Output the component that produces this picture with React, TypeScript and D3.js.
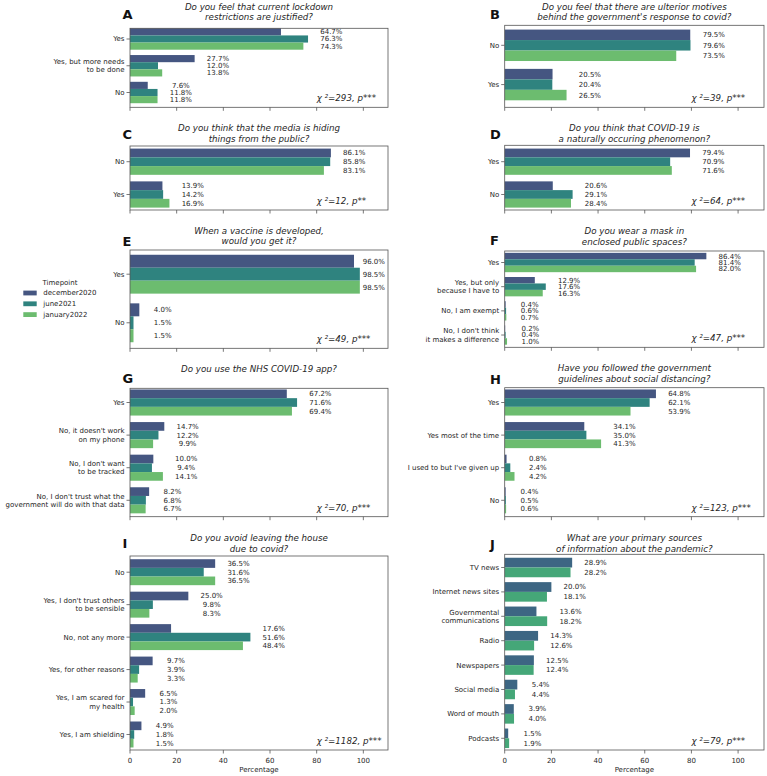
import * as d3 from "d3";
import React, { useEffect, useRef } from "react";

// ---- data ----
const timepoints = ["december2020", "june2021", "january2022"];

const catsA = ["Yes", "Yes, but more needs\nto be done", "No"];
const decA = [64.7, 27.7, 7.6];
const junA = [76.3, 12.0, 11.8];
const janA = [74.3, 13.8, 11.8];

const catsB = ["No", "Yes"];
const decB = [79.5, 20.5];
const junB = [79.6, 20.4];
const janB = [73.5, 26.5];

const catsC = ["No", "Yes"];
const decC = [86.1, 13.9];
const junC = [85.8, 14.2];
const janC = [83.1, 16.9];

const catsD = ["Yes", "No"];
const decD = [79.4, 20.6];
const junD = [70.9, 29.1];
const janD = [71.6, 28.4];

const catsE = ["Yes", "No"];
const decE = [96.0, 4.0];
const junE = [98.5, 1.5];
const janE = [98.5, 1.5];

const catsF = [
  "Yes",
  "Yes, but only\nbecause I have to",
  "No, I am exempt",
  "No, I don't think\nit makes a difference",
];
const decF = [86.4, 12.9, 0.4, 0.2];
const junF = [81.4, 17.6, 0.6, 0.4];
const janF = [82.0, 16.3, 0.7, 1.0];

const catsG = [
  "Yes",
  "No, it doesn't work\non my phone",
  "No, I don't want\nto be tracked",
  "No, I don't trust what the\ngovernment will do with that data",
];
const decG = [67.2, 14.7, 10.0, 8.2];
const junG = [71.6, 12.2, 9.4, 6.8];
const janG = [69.4, 9.9, 14.1, 6.7];

const catsH = ["Yes", "Yes most of the time", "I used to but I've given up", "No"];
const decH = [64.8, 34.1, 0.8, 0.4];
const junH = [62.1, 35.0, 2.4, 0.5];
const janH = [53.9, 41.3, 4.2, 0.6];

const catsI = [
  "No",
  "Yes, I don't trust others\nto be sensible",
  "No, not any more",
  "Yes, for other reasons",
  "Yes, I am scared for\nmy health",
  "Yes, I am shielding",
];
const decI = [36.5, 25.0, 17.6, 9.7, 6.5, 4.9];
const junI = [31.6, 9.8, 51.6, 3.9, 1.3, 1.8];
const janI = [36.5, 8.3, 48.4, 3.3, 2.0, 1.5];

const catsJ = [
  "TV news",
  "Internet news sites",
  "Governmental\ncommunications",
  "Radio",
  "Newspapers",
  "Social media",
  "Word of mouth",
  "Podcasts",
];
const firstJ = [28.9, 20.0, 13.6, 14.3, 12.5, 5.4, 3.9, 1.5];
const secondJ = [28.2, 18.1, 18.2, 12.6, 12.4, 4.4, 4.0, 1.9];

const xTicks = [0, 20, 40, 60, 80, 100];

const colors3 = ["#455681", "#2f837f", "#6cbc6f"];
const colors2 = ["#3d6683", "#45a778"];

interface Panel {
  letter: string;
  title: string[];
  cats: string[];
  series: number[][];
  chi: string;
  stars: string;
  col: number;
  top: number;
  bottom: number;
  yLim: [number, number];
  titleY: number;
  letterY: number;
  xLabels?: boolean;
}

const panels: Panel[] = [
  { letter: "A", title: ["Do you feel that current lockdown", "restrictions are justified?"], cats: catsA, series: [decA, junA, janA], chi: "293", stars: "***", col: 0, top: 28.3, bottom: 107.3, yLim: [-0.4, 2.553], titleY: 9.7, letterY: 19 },
  { letter: "B", title: ["Do you feel that there are ulterior motives", "behind the government's response to covid?"], cats: catsB, series: [decB, junB, janB], chi: "39", stars: "***", col: 1, top: 25.3, bottom: 107.3, yLim: [-0.509, 1.578], titleY: 9.7, letterY: 19.3 },
  { letter: "C", title: ["Do you think that the media is hiding", "things from the public?"], cats: catsC, series: [decC, junC, janC], chi: "12", stars: "**", col: 0, top: 146, bottom: 210, yLim: [-0.479, 1.473], titleY: 131, letterY: 139.3 },
  { letter: "D", title: ["Do you think that COVID-19 is", "a naturally occuring phenomenon?"], cats: catsD, series: [decD, junD, janD], chi: "64", stars: "***", col: 1, top: 145.3, bottom: 210, yLim: [-0.5, 1.473], titleY: 131, letterY: 139.3 },
  { letter: "E", title: ["When a vaccine is developed,", "would you get it?"], cats: catsE, series: [decE, junE, janE], chi: "49", stars: "***", col: 0, top: 250, bottom: 348.3, yLim: [-0.498, 1.525], titleY: 233.5, letterY: 246 },
  { letter: "F", title: ["Do you wear a mask in", "enclosed public spaces?"], cats: catsF, series: [decF, junF, janF], chi: "47", stars: "***", col: 1, top: 251, bottom: 347.3, yLim: [-0.476, 3.508], titleY: 234.3, letterY: 245 },
  { letter: "G", title: ["Do you use the NHS COVID-19 app?"], cats: catsG, series: [decG, junG, janG], chi: "70", stars: "***", col: 0, top: 388.3, bottom: 516.7, yLim: [-0.436, 3.503], titleY: 372.3, letterY: 383.3 },
  { letter: "H", title: ["Have you followed the government", "guidelines about social distancing?"], cats: catsH, series: [decH, junH, janH], chi: "123", stars: "***", col: 1, top: 387.7, bottom: 516.7, yLim: [-0.454, 3.503], titleY: 371.3, letterY: 384 },
  { letter: "I", title: ["Do you avoid leaving the house", "due to covid?"], cats: catsI, series: [decI, junI, janI], chi: "1182", stars: "***", col: 0, top: 556, bottom: 750, yLim: [-0.499, 5.478], titleY: 541.3, letterY: 548.3, xLabels: true },
  { letter: "J", title: ["What are your primary sources", "of information about the pandemic?"], cats: catsJ, series: [firstJ, secondJ], chi: "79", stars: "***", col: 1, top: 554.3, bottom: 750, yLim: [-0.541, 7.48], titleY: 541.3, letterY: 549, xLabels: true },
];

const colLayout = [
  { left: 130, right: 388, xMax: 110.57, letterX: 122.5 },
  { left: 504.7, right: 764, xMax: 111.1, letterX: 490 },
];

const FONT = "DejaVu Sans";
const TEXT = "#262626";

const App: React.FC = () => {
  const svgRef = useRef<SVGSVGElement>(null);

  useEffect(() => {
    if (!svgRef.current) return;
    const svg = d3.select(svgRef.current);
    svg.selectAll("*").remove();
    svg.attr("font-family", FONT);

    panels.forEach((p) => {
      const lay = colLayout[p.col];
      const x = d3.scaleLinear().domain([0, lay.xMax]).range([lay.left, lay.right]);
      const y = d3.scaleLinear().domain(p.yLim).range([p.top, p.bottom]);
      const colors = p.series.length === 3 ? colors3 : colors2;
      const sub = d3
        .scaleBand<number>()
        .domain(d3.range(p.series.length))
        .range([-0.4, 0.4]);
      const bw = sub.bandwidth();
      const g = svg.append("g");

      // bars + value labels
      p.cats.forEach((c, i) => {
        const groupMax = d3.max(p.series, (s) => s[i]) as number;
        const labelX = x(Math.min(groupMax + 10, 104.5));
        p.series.forEach((s, j) => {
          const y0 = y(i + (sub(j) as number));
          const y1 = y(i + (sub(j) as number) + bw);
          g.append("rect")
            .attr("x", x(0))
            .attr("y", y0)
            .attr("width", x(s[i]) - x(0))
            .attr("height", y1 - y0)
            .attr("fill", colors[j]);
          g.append("text")
            .attr("x", labelX)
            .attr("y", (y0 + y1) / 2)
            .attr("dy", "0.35em")
            .attr("text-anchor", "middle")
            .attr("font-size", 7)
            .attr("fill", TEXT)
            .text(`${s[i].toFixed(1)}%`);
        });
      });

      // frame
      g.append("rect")
        .attr("x", lay.left)
        .attr("y", p.top)
        .attr("width", lay.right - lay.left)
        .attr("height", p.bottom - p.top)
        .attr("fill", "none")
        .attr("stroke", "#555")
        .attr("stroke-width", 0.8);

      // y ticks + labels
      p.cats.forEach((c, i) => {
        const cy = y(i);
        g.append("line")
          .attr("x1", lay.left - 3.5)
          .attr("x2", lay.left)
          .attr("y1", cy)
          .attr("y2", cy)
          .attr("stroke", "#555")
          .attr("stroke-width", 0.8);
        const lines = c.split("\n");
        const t = g
          .append("text")
          .attr("text-anchor", "end")
          .attr("font-size", 7)
          .attr("fill", TEXT);
        lines.forEach((ln, k) => {
          t.append("tspan")
            .attr("x", lay.left - 5.5)
            .attr("y", cy + (k - (lines.length - 1) / 2) * 8.4)
            .attr("dy", "0.35em")
            .text(ln);
        });
      });

      // x ticks
      xTicks.forEach((tv) => {
        g.append("line")
          .attr("x1", x(tv))
          .attr("x2", x(tv))
          .attr("y1", p.bottom)
          .attr("y2", p.bottom + 3.5)
          .attr("stroke", "#555")
          .attr("stroke-width", 0.8);
        if (p.xLabels) {
          g.append("text")
            .attr("x", x(tv))
            .attr("y", p.bottom + 12.5)
            .attr("text-anchor", "middle")
            .attr("font-size", 7)
            .attr("fill", TEXT)
            .text(tv);
        }
      });
      if (p.xLabels) {
        g.append("text")
          .attr("x", (lay.left + lay.right) / 2)
          .attr("y", p.bottom + 21.5)
          .attr("text-anchor", "middle")
          .attr("font-size", 7)
          .attr("fill", TEXT)
          .text("Percentage");
      }

      // title
      p.title.forEach((ln, k) => {
        g.append("text")
          .attr("x", (lay.left + lay.right) / 2)
          .attr("y", p.titleY + k * 10.7)
          .attr("text-anchor", "middle")
          .attr("font-size", 8.7)
          .attr("font-style", "italic")
          .attr("fill", TEXT)
          .text(ln);
      });

      // panel letter
      g.append("text")
        .attr("x", lay.letterX)
        .attr("y", p.letterY)
        .attr("font-size", 13)
        .attr("font-weight", "bold")
        .attr("fill", "#111")
        .text(p.letter);

      // chi-square annotation
      g.append("text")
        .attr("x", x(80))
        .attr("y", p.bottom - 6)
        .attr("font-size", 8.7)
        .attr("font-style", "italic")
        .attr("fill", TEXT)
        .text(`χ ²=${p.chi}, p${p.stars}`);
    });

    // legend
    const legend = svg.append("g").attr("font-size", 7).attr("fill", TEXT);
    legend
      .append("text")
      .attr("x", 60)
      .attr("y", 285.2)
      .attr("text-anchor", "middle")
      .text("Timepoint");
    timepoints.forEach((tp, i) => {
      const cy = 293 + i * 10.8;
      legend
        .append("rect")
        .attr("x", 23.3)
        .attr("y", cy - 2.4)
        .attr("width", 13.4)
        .attr("height", 4.8)
        .attr("fill", colors3[i]);
      legend
        .append("text")
        .attr("x", 43.3)
        .attr("y", cy)
        .attr("dy", "0.35em")
        .text(tp);
    });
  }, []);

  return (
    <svg
      ref={svgRef}
      width={767}
      height={776}
      style={{ position: "absolute", left: 0, top: 0, background: "#fff" }}
    />
  );
};

export default App;
